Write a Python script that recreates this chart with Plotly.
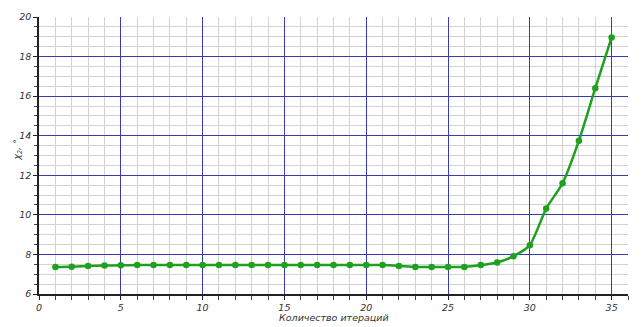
import plotly.graph_objects as go

iterations = list(range(1, 36))
chi2 = [7.37, 7.38, 7.42, 7.44, 7.45, 7.46, 7.46, 7.46, 7.47, 7.47,
        7.47, 7.47, 7.47, 7.47, 7.47, 7.47, 7.47, 7.47, 7.47, 7.47,
        7.46, 7.42, 7.37, 7.36, 7.36, 7.37, 7.46, 7.59, 7.91, 8.47,
        10.32, 11.6, 13.75, 16.4, 18.97]

x_ticks = [0, 5, 10, 15, 20, 25, 30, 35]
y_ticks = [6, 8, 10, 12, 14, 16, 18, 20]
x_title = "Количество итераций"
y_title = "χ<sub>2</sub>, °"

fig = go.Figure()
fig.add_trace(go.Scatter(
    x=iterations, y=chi2, mode="lines+markers",
    line=dict(color="#1fa01f", width=2.5, shape="spline", smoothing=0.6),
    marker=dict(color="#1fa01f", size=6.5),
    showlegend=False,
))

tick_font = dict(family="DejaVu Sans", size=9.5, color="#333333")
title_font = dict(family="DejaVu Sans", size=9.5, color="#333333")
fig.update_layout(
    width=643, height=327,
    margin=dict(l=39, r=15, t=17, b=33),
    paper_bgcolor="white", plot_bgcolor="white",
    font=tick_font,
    xaxis=dict(
        range=[0, 36], tickvals=x_ticks, ticktext=[f"<i>{v}</i>" for v in x_ticks],
        tickfont=tick_font,
        showgrid=True, gridcolor="#3a3ab0", gridwidth=1,
        showline=True, linecolor="#222222", linewidth=1.5,
        ticks="outside", ticklen=4, tickcolor="#222222",
        zeroline=False, automargin=False,
        minor=dict(dtick=1, showgrid=True, gridcolor="#d2d2d2", gridwidth=1,
                   ticks="outside", ticklen=4, tickcolor="#444444"),
    ),
    yaxis=dict(
        range=[6, 20], tickvals=y_ticks, ticktext=[f"<i>{v}</i>" for v in y_ticks],
        tickfont=tick_font,
        showgrid=True, gridcolor="#3a3ab0", gridwidth=1,
        showline=True, linecolor="#222222", linewidth=1.5,
        ticks="outside", ticklen=4, tickcolor="#222222",
        zeroline=False, automargin=False,
        minor=dict(dtick=0.5, showgrid=True, gridcolor="#d2d2d2", gridwidth=1,
                   ticks="outside", ticklen=3, tickcolor="#444444"),
    ),
    annotations=[
        dict(text=f"<i>{x_title}</i>", xref="paper", yref="paper",
             x=0.5, y=-0.085, xanchor="center", yanchor="middle",
             showarrow=False, font=title_font),
        dict(text=f"<i>{y_title}</i>", xref="paper", yref="paper",
             x=-0.036, y=0.52, xanchor="center", yanchor="middle",
             textangle=-90, showarrow=False, font=title_font),
    ],
)

fig.write_html("out.html")
